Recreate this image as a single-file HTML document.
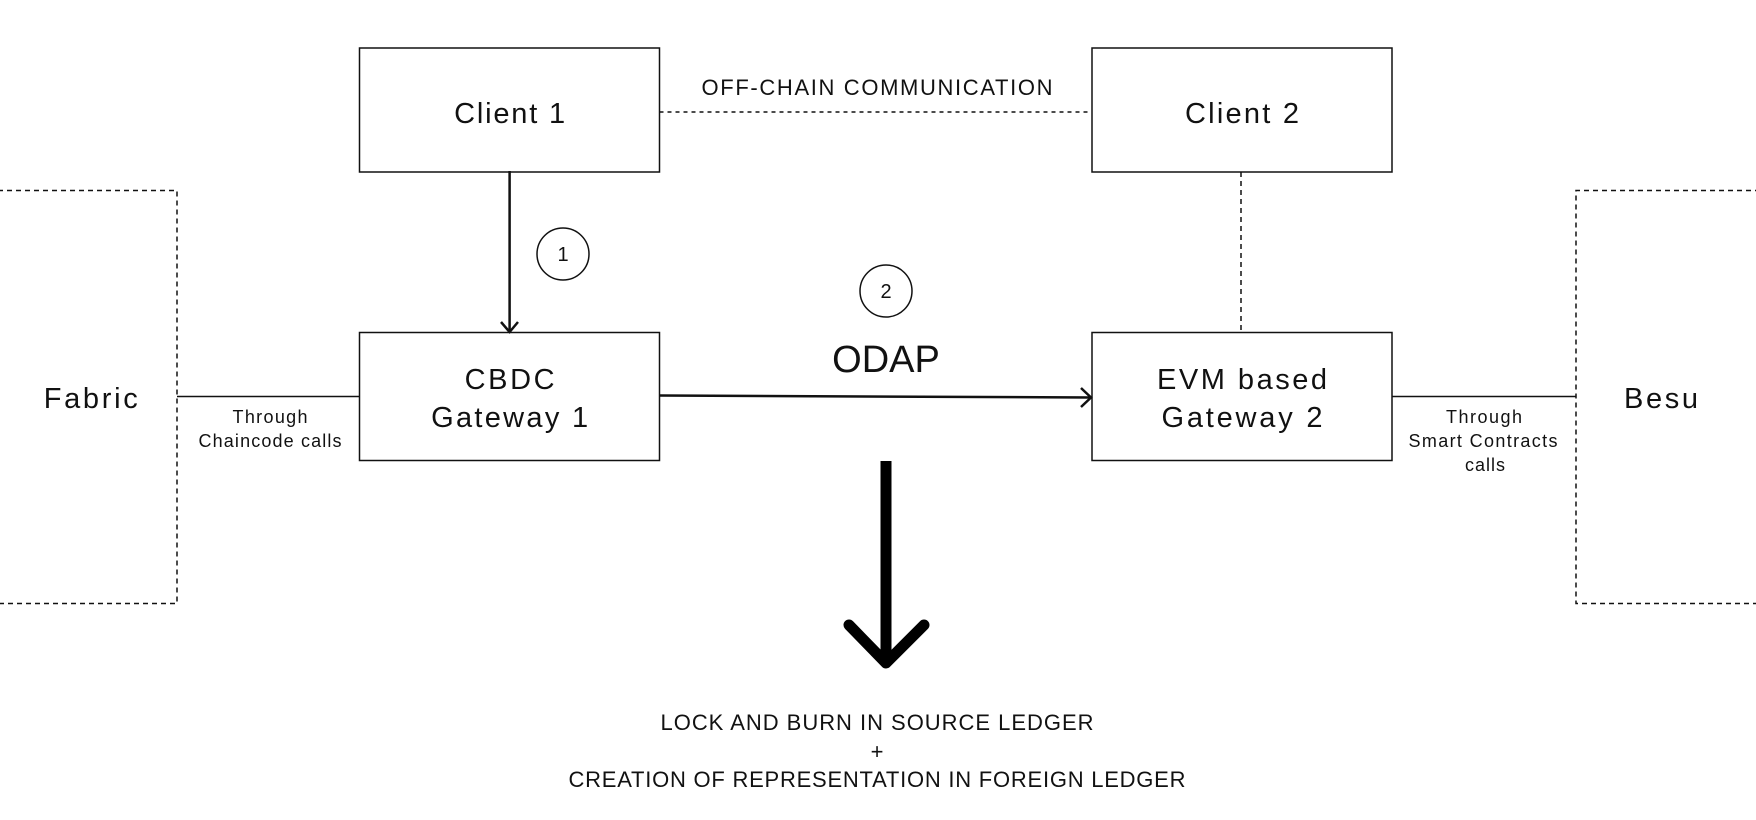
<!DOCTYPE html>
<html><head><meta charset="utf-8"><style>html,body{margin:0;padding:0;background:#fff}svg{display:block}text{font-family:"Liberation Sans",sans-serif;fill:#111}</style></head>
<body>
<svg width="1756" height="820" viewBox="0 0 1756 820" xmlns="http://www.w3.org/2000/svg">
<g fill="none" stroke="#111" stroke-width="1.5">
<rect x="359.5" y="48" width="300" height="124"/>
<rect x="1092" y="48" width="300" height="124"/>
<rect x="359.5" y="332.5" width="300" height="128"/>
<rect x="1092" y="332.5" width="300" height="128"/>
<path d="M-2 190.5H177V603.5H-2" stroke-dasharray="5,4"/>
<path d="M1760 190.5H1576V603.5H1760" stroke-dasharray="5,4"/>
<path d="M659.5 112H1092" stroke-dasharray="4,4"/>
<path d="M1241 172V332" stroke-dasharray="5,4"/>
<path d="M177 396.5H359.5"/>
<path d="M1392 396.5H1576"/>
<circle cx="563" cy="254" r="26"/>
<circle cx="886" cy="291" r="26"/>
</g>
<g fill="none" stroke="#111" stroke-width="2.5">
<path d="M509.6 171V332"/>
<path d="M501 322L509.6 332L518 322"/>
<path d="M659.5 395.5L1091 397.5"/>
<path d="M1081 388L1091 397.5L1081 407"/>
</g>
<path d="M886 461V660" stroke="#000" stroke-width="11" fill="none"/>
<path d="M849 625L886 663L924 625" stroke="#000" stroke-width="11" fill="none" stroke-linecap="round" stroke-linejoin="round"/>
<g text-anchor="middle" lengthAdjust="spacing">
<text x="509.6" y="123" font-size="29" textLength="111" lengthAdjust="spacing">Client 1</text>
<text x="1242" y="123" font-size="29" textLength="114" lengthAdjust="spacing">Client 2</text>
<text x="509.6" y="389" font-size="29" textLength="90" lengthAdjust="spacing">CBDC</text>
<text x="509.6" y="427" font-size="29" textLength="157" lengthAdjust="spacing">Gateway 1</text>
<text x="1242" y="389" font-size="29" textLength="170" lengthAdjust="spacing">EVM based</text>
<text x="1242" y="427" font-size="29" textLength="161" lengthAdjust="spacing">Gateway 2</text>
<text x="90.7" y="408" font-size="29" textLength="94" lengthAdjust="spacing">Fabric</text>
<text x="1661" y="408" font-size="29" textLength="74" lengthAdjust="spacing">Besu</text>
<text x="877" y="95" font-size="22" textLength="351" lengthAdjust="spacing">OFF-CHAIN COMMUNICATION</text>
<text x="886" y="372" font-size="38">ODAP</text>
<text x="563" y="261" font-size="20">1</text>
<text x="886" y="298" font-size="20">2</text>
<text x="270" y="423" font-size="18" textLength="75" lengthAdjust="spacing">Through</text>
<text x="270" y="447" font-size="18" textLength="143" lengthAdjust="spacing">Chaincode calls</text>
<text x="1484" y="423" font-size="18" textLength="76" lengthAdjust="spacing">Through</text>
<text x="1483" y="447" font-size="18" textLength="149" lengthAdjust="spacing">Smart Contracts</text>
<text x="1485" y="471" font-size="18" textLength="40" lengthAdjust="spacing">calls</text>
<text x="877" y="730" font-size="22" textLength="433" lengthAdjust="spacing">LOCK AND BURN IN SOURCE LEDGER</text>
<text x="877" y="759" font-size="22">+</text>
<text x="877" y="787" font-size="22" textLength="617" lengthAdjust="spacing">CREATION OF REPRESENTATION IN FOREIGN LEDGER</text>
</g>
</svg>
</body></html>
